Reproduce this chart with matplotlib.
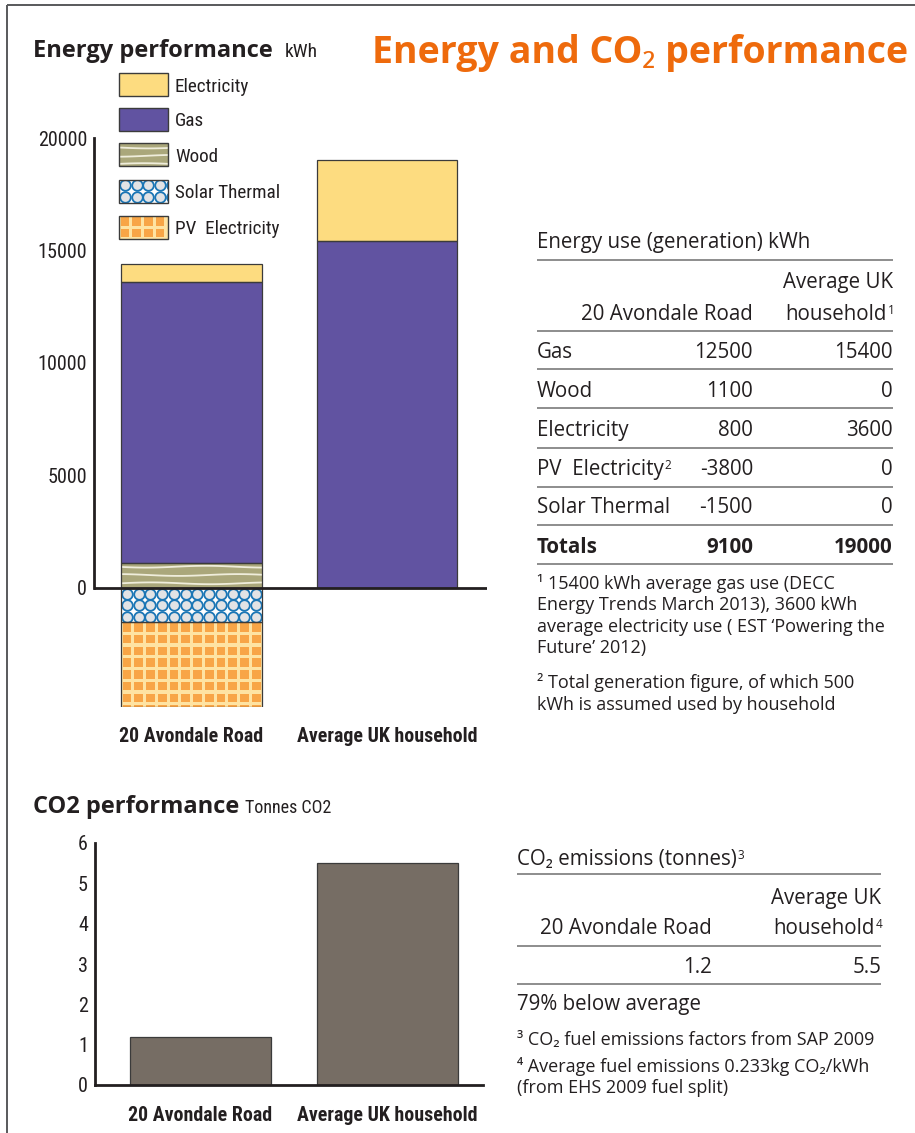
import numpy as np
import matplotlib
matplotlib.use('Agg')
import matplotlib.pyplot as plt
from matplotlib.patches import Rectangle
from matplotlib import font_manager as fm

# ---------------- data ----------------
categories = ['20 Avondale Road', 'Average UK household']
gas = [12500, 15400]
wood = [1100, 0]
electricity = [800, 3600]
pv_electricity = [-3800, 0]
solar_thermal = [-1500, 0]
energy_ticks = [0, 5000, 10000, 15000, 20000]
co2_tonnes = [1.2, 5.5]
co2_ticks = [0, 1, 2, 3, 4, 5, 6]
legend_labels = ['Electricity', 'Gas', 'Wood', 'Solar Thermal', 'PV  Electricity']
table_row_labels = ['Gas', 'Wood', 'Electricity', 'PV  Electricity', 'Solar Thermal']
table_row_notes = ['', '', '', '2', '']

# ---------------- fonts ----------------
names = {f.name for f in fm.fontManager.ttflist}
def pick(cands):
    return [c for c in cands if c in names] + ['DejaVu Sans']
SANS = pick(['Open Sans', 'Noto Sans'])
NARROW = pick(['Roboto Condensed', 'Liberation Sans Narrow', 'Open Sans Condensed',
               'Noto Sans Condensed', 'DejaVu Sans Condensed', 'Liberation Sans'])
plt.rcParams['font.family'] = SANS

INK = '#231f20'
ORANGE = '#ee6a0c'
GAS_C = '#6153a1'
ELEC_C = '#fddc80'
WOOD_BASE = '#aaa77b'
WOOD_LINE = '#efeddb'
SOLAR_BASE = '#ffffff'
SOLAR_FACE = '#e2e3e5'
SOLAR_RING = '#1b76b5'
PV_BASE = '#fee3a2'
PV_SQ = '#f8a546'
EDGE = '#3b3b3b'
CO2_C = '#766d64'
RULE = '#7a7a7a'

BASE = {'elec': ELEC_C, 'gas': GAS_C, 'wood': WOOD_BASE, 'solar': SOLAR_BASE, 'pv': PV_BASE}

W, H = 915, 1133
fig = plt.figure(figsize=(W / 100, H / 100), dpi=100)


def add_px_axes(x0, y0, x1, y1):
    return fig.add_axes([x0 / W, 1 - y1 / H, (x1 - x0) / W, (y1 - y0) / H])


def add_pattern(ax, patch, kind, upx, upy):
    x0, w = patch.get_x(), patch.get_width()
    y0, h = patch.get_y(), patch.get_height()
    xlo, xhi = min(x0, x0 + w), max(x0, x0 + w)
    ylo, yhi = min(y0, y0 + h), max(y0, y0 + h)
    uy = abs(upy)
    if kind == 'wood':
        xs = np.linspace(xlo, xhi, 80)
        ys = np.arange(ylo + 4.5 * uy, yhi, 8.3 * uy)
        for i, yy in enumerate(ys):
            wav = 0.9 * uy * np.sin((xs - xlo) / (upx * 19.0) + 1.7 * i)
            ln, = ax.plot(xs, yy + wav, color=WOOD_LINE, lw=1.3, zorder=3)
            ln.set_clip_path(patch)
    elif kind in ('solar', 'pv'):
        pitch = 11.75
        cx = np.arange(xlo + pitch / 2 * upx, xhi + pitch * upx, pitch * upx)
        cy = np.arange(yhi - pitch / 2 * uy, ylo - pitch * uy, -pitch * uy)
        X, Y = np.meshgrid(cx, cy)
        if kind == 'solar':
            sc = ax.scatter(X.ravel(), Y.ravel(), s=(10.6 * 0.72) ** 2, marker='o',
                            facecolors=SOLAR_FACE, edgecolors=SOLAR_RING,
                            linewidths=1.3, zorder=3)
        else:
            sc = ax.scatter(X.ravel(), Y.ravel(), s=(8.6 * 0.72) ** 2, marker='s',
                            facecolors=PV_SQ, edgecolors='none', zorder=3)
        sc.set_clip_path(patch)


BW = 0.72


def stacked(ax, x, heights, bottoms, kind, upx, upy, width):
    idx = [i for i, hh in enumerate(heights) if hh != 0]
    xs = [x[i] for i in idx]
    hs = [heights[i] for i in idx]
    bs = [bottoms[i] for i in idx]
    bars = ax.bar(xs, hs, width, bottom=bs, color=BASE[kind], edgecolor='none', zorder=2)
    for b in bars:
        add_pattern(ax, b, kind, upx, upy)
    ax.bar(xs, hs, width, bottom=bs, fill=False, edgecolor=EDGE, linewidth=0.9, zorder=4)


# ---------------- energy chart ----------------
ex0, ey0, ex1, ey1 = 94, 138, 487, 707
ax = add_px_axes(ex0, ey0, ex1, ey1)
x = np.arange(len(categories))
neg_total = np.add(solar_thermal, pv_electricity)
ylo = float(np.min(neg_total))
yhi = float(energy_ticks[-1])
xl = (-0.4987, 1.511)
upx = (xl[1] - xl[0]) / (ex1 - ex0)
upy = (yhi - ylo) / (ey1 - ey0)

b_wood = np.zeros(len(x))
b_gas = b_wood + np.array(wood)
b_elec = b_gas + np.array(gas)
stacked(ax, x, wood, b_wood, 'wood', upx, upy, BW)
stacked(ax, x, gas, b_gas, 'gas', upx, upy, BW)
stacked(ax, x, electricity, b_elec, 'elec', upx, upy, BW)
stacked(ax, x, solar_thermal, np.zeros(len(x)), 'solar', upx, upy, BW)
stacked(ax, x, pv_electricity, np.array(solar_thermal), 'pv', upx, upy, BW)
ax.axhline(0, color=INK, lw=2.0, zorder=6)

ax.set_xlim(*xl)
ax.set_ylim(ylo, yhi)
for s in ['top', 'right', 'bottom']:
    ax.spines[s].set_visible(False)
ax.spines['left'].set_bounds(0, yhi)
ax.spines['left'].set_linewidth(2.0)
ax.spines['left'].set_color(INK)
ax.set_yticks(energy_ticks)
ax.set_yticklabels([str(t) for t in energy_ticks], family=NARROW, fontsize=14.5, color=INK)
ax.tick_params(axis='y', length=0, pad=5)
ax.set_xticks(x)
ax.set_xticklabels(categories, family=NARROW, fontsize=14.3, fontweight='bold', color=INK)
ax.tick_params(axis='x', length=0, pad=14.5)
ax.patch.set_alpha(0)

# ---------------- CO2 chart ----------------
cx0, cy0, cx1, cy1 = 95, 843, 483, 1085
ac = add_px_axes(cx0, cy0, cx1, cy1)
ac.bar(x, co2_tonnes, 0.754, color=CO2_C, edgecolor=EDGE, linewidth=0.9, zorder=2)
ac.set_xlim(-0.564, 1.511)
ac.set_ylim(co2_ticks[0], co2_ticks[-1])
for s in ['top', 'right']:
    ac.spines[s].set_visible(False)
for s in ['left', 'bottom']:
    ac.spines[s].set_linewidth(2.0)
    ac.spines[s].set_color(INK)
ac.set_yticks(co2_ticks)
ac.set_yticklabels([str(t) for t in co2_ticks], family=NARROW, fontsize=14.5, color=INK)
ac.tick_params(axis='y', length=0, pad=5)
ac.set_xticks(x)
ac.set_xticklabels(categories, family=NARROW, fontsize=14.3, fontweight='bold', color=INK)
ac.tick_params(axis='x', length=0, pad=15)
ac.patch.set_alpha(0)

# ---------------- overlay (layout in pixels) ----------------
ov = fig.add_axes([0, 0, 1, 1], zorder=5)
ov.set_xlim(0, W)
ov.set_ylim(H, 0)
ov.axis('off')

# border
ov.plot([7, 7], [5, H], color='#58595b', lw=1.4, solid_capstyle='butt')
ov.plot([7, W], [5, 5], color='#58595b', lw=1.4, solid_capstyle='butt')

# titles
ov.text(372, 63, 'Energy and CO₂ performance', fontsize=27, fontweight='bold',
        color=ORANGE, va='baseline', ha='left')
ov.text(33, 57, 'Energy performance', fontsize=17, fontweight='bold', color=INK,
        va='baseline')
ov.text(285, 57, 'kWh', fontsize=14, family=NARROW, color=INK, va='baseline')
ov.text(33, 813, 'CO2 performance', fontsize=17, fontweight='bold', color=INK,
        va='baseline')
ov.text(245, 813, 'Tonnes CO2', fontsize=13, family=NARROW, color=INK, va='baseline')

# legend
leg_kinds = ['elec', 'gas', 'wood', 'solar', 'pv']
leg_tops = [73, 108, 143, 180, 216]
for lab, kind, top in zip(legend_labels, leg_kinds, leg_tops):
    r = Rectangle((119, top), 49, 23, facecolor=BASE[kind], edgecolor='none', zorder=2)
    ov.add_patch(r)
    add_pattern(ov, r, kind, 1.0, 1.0)
    ov.add_patch(Rectangle((119, top), 49, 23, fill=False, edgecolor=EDGE, lw=1.0, zorder=4))
    ov.text(175, top + 13.5, lab, family=NARROW, fontsize=13.8, color=INK, va='center')


def rule(x0, x1, y):
    ov.plot([x0, x1], [y, y], color=RULE, lw=1.2, solid_capstyle='butt')


def txt(xp, yp, s, ha='left', size=14.8, bold=False):
    return ov.text(xp, yp, s, ha=ha, va='baseline', fontsize=size, color=INK,
                   fontweight='bold' if bold else 'normal')


def sup_after(t, s, size=8.5):
    # small superscript note placed right after a text artist
    ov.annotate(s, xy=(1.0, 1.0), xycoords=t, xytext=(0.8, 0.3),
                textcoords='offset points', ha='left', va='top',
                fontsize=size, color=INK)


# energy table
TX0, TX1, C1, C2 = 537, 893, 753, 893
txt(TX0, 248, 'Energy use (generation) kWh')
for yy in [260, 331, 369, 408, 448, 487, 525, 564]:
    rule(TX0, TX1, yy)
head2 = categories[1].rsplit(' ', 1)
txt(C2, 288, head2[0], ha='right')
txt(C1, 320, categories[0], ha='right')
th = txt(C2 - 6, 320, head2[1], ha='right')
sup_after(th, '1')
row_vals = [gas, wood, electricity, pv_electricity, solar_thermal]
row_base = [358, 397, 436, 475, 513]
for lab, note, vals, yb in zip(table_row_labels, table_row_notes, row_vals, row_base):
    tl = txt(TX0, yb, lab)
    if note:
        sup_after(tl, note)
    txt(C1, yb, str(vals[0]), ha='right')
    txt(C2, yb, str(vals[1]), ha='right')
totals = np.sum(row_vals, axis=0)
txt(TX0, 553, 'Totals', bold=True)
txt(C1, 553, str(int(totals[0])), ha='right', bold=True)
txt(C2, 553, str(int(totals[1])), ha='right', bold=True)
fn1 = ['¹ 15400 kWh average gas use (DECC',
       'Energy Trends March 2013), 3600 kWh',
       'average electricity use ( EST ‘Powering the',
       'Future’ 2012)']
for i, s in enumerate(fn1):
    txt(TX0, 589 + 21.5 * i, s, size=13)
txt(TX0, 688, '² Total generation figure, of which 500', size=13)
txt(TX0, 709.5, 'kWh is assumed used by household', size=13)

# CO2 table
DX0, DX1, D1, D2 = 517, 881, 712, 881
tc = txt(DX0, 865, 'CO₂ emissions (tonnes)')
sup_after(tc, '3')
for yy in [874, 946, 984]:
    rule(DX0, DX1, yy)
txt(D2, 904, head2[0], ha='right')
txt(D1, 934, categories[0], ha='right')
th2 = txt(D2 - 6, 934, head2[1], ha='right')
sup_after(th2, '4')
txt(D1, 973, str(co2_tonnes[0]), ha='right')
txt(D2, 973, str(co2_tonnes[1]), ha='right')
txt(DX0, 1010, '79% below average')
txt(DX0, 1045, '³ CO₂ fuel emissions factors from SAP 2009', size=13)
txt(DX0, 1072, '⁴ Average fuel emissions 0.233kg CO₂/kWh', size=13)
txt(DX0, 1093, '(from EHS 2009 fuel split)', size=13)

fig.savefig('out.png', dpi=100)
